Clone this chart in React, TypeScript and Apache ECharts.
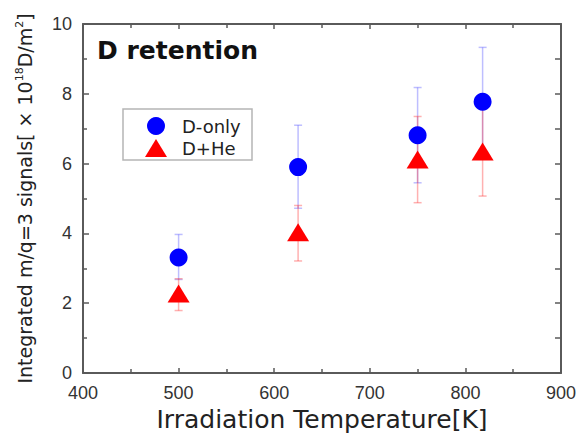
import React, { useEffect, useRef } from "react";
import * as echarts from "echarts";

const temps = [500, 625, 750, 818];
const dOnly = [3.31, 5.9, 6.81, 7.77];
const dOnlyLow = [2.68, 4.72, 5.45, 6.2];
const dOnlyHigh = [3.97, 7.1, 8.18, 9.33];
const dHe = [2.28, 4.03, 6.12, 6.35];
const dHeLow = [1.79, 3.21, 4.88, 5.07];
const dHeHigh = [2.7, 4.8, 7.35, 7.62];

const FONT = "Liberation Sans";
const WIDE = "DejaVu Sans";
const AX = "#5a5a5a";

function errData(low: number[], high: number[]) {
  return temps.map((t, i) => [t, low[i], high[i]]);
}

function errRender(color: string) {
  return (params: any, api: any) => {
    const x = api.value(0);
    const p1 = api.coord([x, api.value(1)]);
    const p2 = api.coord([x, api.value(2)]);
    const w = 4;
    const style = { stroke: color, lineWidth: 1.5 };
    return {
      type: "group",
      children: [
        { type: "line", shape: { x1: p1[0], y1: p1[1], x2: p2[0], y2: p2[1] }, style },
        { type: "line", shape: { x1: p1[0] - w, y1: p1[1], x2: p1[0] + w, y2: p1[1] }, style },
        { type: "line", shape: { x1: p2[0] - w, y1: p2[1], x2: p2[0] + w, y2: p2[1] }, style },
      ],
    };
  };
}

export default function App() {
  const ref = useRef<HTMLDivElement>(null);
  useEffect(() => {
    if (!ref.current) return;
    const chart = echarts.init(ref.current, null, { renderer: "svg" });
    const axisCommon = {
      axisLine: { show: true, onZero: false, lineStyle: { color: AX, width: 2 } },
      splitLine: { show: false },
    };
    chart.setOption({
      animation: false,
      backgroundColor: "#fff",
      grid: { left: 83, right: 23, top: 24, bottom: 61, containLabel: false, outerBoundsMode: "none" },
      title: {
        text: "D retention",
        left: 92,
        top: 33,
        textStyle: { fontFamily: WIDE, fontWeight: "bold", fontSize: 25, color: "#111" },
      },
      legend: {
        data: ["D-only", "D+He"],
        orient: "vertical",
        left: 123,
        top: 109,
        itemWidth: 22,
        itemHeight: 18,
        itemGap: 4,
        padding: [8, 4, 3, 22],
        borderColor: "#b5b5b5",
        borderWidth: 1.5,
        borderRadius: 0,
        textStyle: {
          fontFamily: WIDE,
          fontSize: 18,
          color: "#222",
          lineHeight: 18,
          padding: [0, 0, 0, 10],
          width: 66,
        },
      },
      xAxis: [
        {
          type: "value",
          min: 400,
          max: 900,
          interval: 100,
          position: "bottom",
          name: "Irradiation Temperature[K]",
          nameLocation: "middle",
          nameGap: 32,
          nameTextStyle: { fontFamily: WIDE, fontSize: 25, color: "#222", lineHeight: 26 },
          axisTick: { show: true, inside: true, length: 5, lineStyle: { color: AX, width: 1.5 } },
          minorTick: { show: true, splitNumber: 2, length: 4, lineStyle: { color: AX, width: 1.5 } },
          axisLabel: { fontFamily: FONT, fontSize: 18, color: "#333", margin: 11 },
          ...axisCommon,
        },
        {
          type: "value",
          min: 400,
          max: 900,
          interval: 100,
          position: "top",
          axisTick: { show: true, inside: true, length: 5, lineStyle: { color: AX, width: 1.5 } },
          minorTick: { show: true, splitNumber: 2, length: 4, lineStyle: { color: AX, width: 1.5 } },
          axisLabel: { show: false },
          ...axisCommon,
        },
      ],
      yAxis: [
        {
          type: "value",
          min: 0,
          max: 10,
          interval: 2,
          position: "left",
          name: "Integrated m/q=3 signals[ × 10{sup|18}D/m{sup|2}]",
          nameLocation: "middle",
          nameRotate: 90,
          nameGap: 47,
          nameTextStyle: {
            fontFamily: WIDE,
            fontSize: 19,
            color: "#222",
            lineHeight: 22,
            rich: {
              sup: { fontFamily: WIDE, fontSize: 11, color: "#222", verticalAlign: "top", lineHeight: 11 },
            },
          },
          axisTick: { show: true, inside: true, length: 6, lineStyle: { color: AX, width: 1.5 } },
          minorTick: { show: true, splitNumber: 2, length: 4, lineStyle: { color: AX, width: 1.5 } },
          axisLabel: { fontFamily: FONT, fontSize: 18, color: "#333", margin: 11 },
          ...axisCommon,
        },
        {
          type: "value",
          min: 0,
          max: 10,
          interval: 1,
          position: "right",
          axisTick: { show: true, inside: true, length: 6, lineStyle: { color: AX, width: 1.5 } },
          axisLabel: { show: false },
          ...axisCommon,
        },
      ],
      series: [
        {
          name: "errDOnly",
          type: "custom",
          renderItem: errRender("rgba(70,70,255,0.35)"),
          data: errData(dOnlyLow, dOnlyHigh),
          encode: { x: 0, y: [1, 2] },
          z: 1,
          silent: true,
        },
        {
          name: "errDHe",
          type: "custom",
          renderItem: errRender("rgba(255,60,60,0.4)"),
          data: errData(dHeLow, dHeHigh),
          encode: { x: 0, y: [1, 2] },
          z: 1,
          silent: true,
        },
        {
          name: "D-only",
          type: "scatter",
          symbol: "circle",
          symbolSize: 18,
          itemStyle: { color: "#0000ff", opacity: 1 },
          data: temps.map((t, i) => [t, dOnly[i]]),
          z: 3,
        },
        {
          name: "D+He",
          type: "scatter",
          symbol: "triangle",
          symbolSize: [22, 18],
          itemStyle: { color: "#ff0000", opacity: 1 },
          data: temps.map((t, i) => [t, dHe[i]]),
          z: 4,
        },
      ],
    });
    return () => chart.dispose();
  }, []);
  return (
    <div
      ref={ref}
      style={{ position: "fixed", left: 0, top: 0, width: 584, height: 434, background: "#fff" }}
    />
  );
}
